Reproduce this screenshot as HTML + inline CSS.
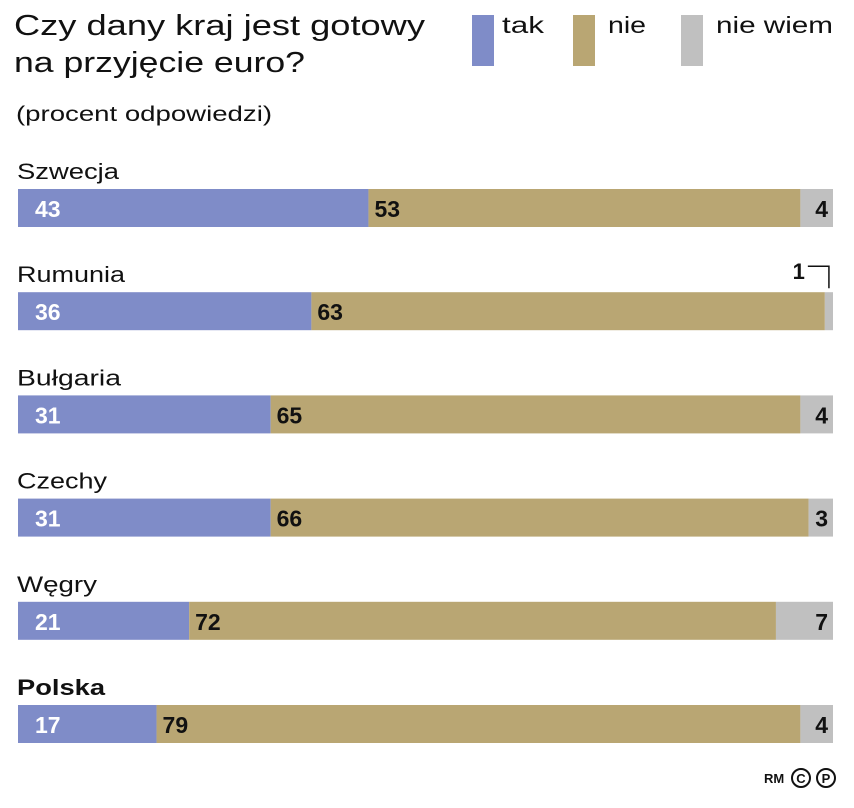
<!DOCTYPE html>
<html><head><meta charset="utf-8"><style>
body{margin:0;background:#fff;font-family:"Liberation Sans",sans-serif;}
svg text{font-family:"Liberation Sans",sans-serif;}
</style></head><body>
<svg id="chart" width="854" height="803" xmlns="http://www.w3.org/2000/svg">
<text x="14" y="35" font-size="29" fill="#111" textLength="411" lengthAdjust="spacingAndGlyphs">Czy dany kraj jest gotowy</text>
<text x="14" y="72" font-size="29" fill="#111" textLength="291" lengthAdjust="spacingAndGlyphs">na przyjęcie euro?</text>
<text x="16" y="121" font-size="21" fill="#111" textLength="256" lengthAdjust="spacingAndGlyphs">(procent odpowiedzi)</text>
<g>
<rect x="472" y="15" width="22" height="51" fill="#7f8cc8"/>
<text x="502" y="33" font-size="23" fill="#111" textLength="42" lengthAdjust="spacingAndGlyphs">tak</text>
<rect x="573" y="15" width="22" height="51" fill="#b9a673"/>
<text x="608" y="33" font-size="23" fill="#111" textLength="38" lengthAdjust="spacingAndGlyphs">nie</text>
<rect x="681" y="15" width="22" height="51" fill="#c0c0c0"/>
<text x="716" y="33" font-size="23" fill="#111" textLength="117" lengthAdjust="spacingAndGlyphs">nie wiem</text>
</g>
<g id="bars"></g>
<text x="764" y="783" font-size="13" font-weight="bold" fill="#111">RM</text>
<circle cx="801" cy="778" r="9" fill="none" stroke="#111" stroke-width="2"/>
<text x="801" y="783" font-size="13" font-weight="bold" text-anchor="middle" fill="#111">C</text>
<circle cx="826" cy="778" r="9" fill="none" stroke="#111" stroke-width="2"/>
<text x="826" y="783" font-size="13" font-weight="bold" text-anchor="middle" fill="#111">P</text>
</svg>
<script>
const countries=["Szwecja","Rumunia","Bułgaria","Czechy","Węgry","Polska"];
const tak=[43,36,31,31,21,17];
const nie=[53,63,65,66,72,79];
const nieWiem=[4,1,4,3,7,4];
const labelW=[102,108,104,90,80,88];
const X0=18,W=815,Y0=189,STEP=103.2,H=38;
const xs=v=>v/100*W;
const g=document.getElementById('bars');
const NS='http://www.w3.org/2000/svg';
function mk(tag,attrs,txt){const e=document.createElementNS(NS,tag);for(const k in attrs)e.setAttribute(k,attrs[k]);if(txt!==undefined)e.textContent=txt;g.appendChild(e);return e;}
countries.forEach((c,i)=>{
 const y=Y0+i*STEP;
 const lab=mk('text',{x:17,y:y-10,'font-size':22,fill:'#111','font-weight':c==='Polska'?'bold':'normal',textLength:labelW[i],lengthAdjust:'spacingAndGlyphs'},c);
 
 
 const a=xs(tak[i]),b=xs(nie[i]),d=xs(nieWiem[i]);
 const r1=mk('rect',{x:X0,y:y,width:a,height:H,fill:'#7f8cc8'});
 
 
 const r2=mk('rect',{x:X0+a,y:y,width:b,height:H,fill:'#b9a673'});
 
 
 const r3=mk('rect',{x:X0+a+b,y:y,width:d,height:H,fill:'#c0c0c0'});
 
 
 const t1=mk('text',{x:X0+17,y:y+28,'font-size':23,'font-weight':'bold',fill:'#fff'},tak[i]);
 
 
 const t2=mk('text',{x:X0+a+6,y:y+28,'font-size':23,'font-weight':'bold',fill:'#111'},nie[i]);
 
 
 let t3;
 if(nieWiem[i]>=3){
  t3=mk('text',{x:X0+W-5,y:y+28,'font-size':23,'font-weight':'bold',fill:'#111','text-anchor':'end'},nieWiem[i]);
 }else{
  t3=mk('text',{x:X0+a+b-20,y:y-13,'font-size':22,'font-weight':'bold',fill:'#111','text-anchor':'end'},nieWiem[i]);
  const px=X0+a+b+d/2;
  const l=mk('path',{d:`M${X0+a+b-17} ${y-26}H${px}V${y-4}`,fill:'none',stroke:'#111','stroke-width':1.5});
  
  
 }
 
 
});
</script>
</body></html>
